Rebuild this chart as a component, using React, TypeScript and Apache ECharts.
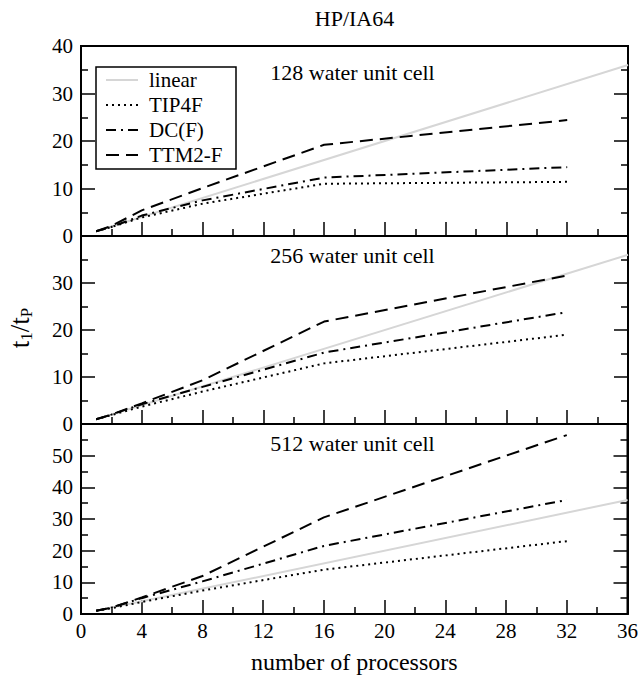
import React, { useEffect, useRef } from "react";
import * as echarts from "echarts";

const FONT = "'Liberation Serif', 'Times New Roman', serif";

// ---- data ----
const processors = [1, 2, 4, 8, 16, 32];
const linearX = [1, 36];
const seriesNames = ["linear", "TIP4F", "DC(F)", "TTM2-F"];
const panelTitles = ["128 water unit cell", "256 water unit cell", "512 water unit cell"];
const yMaxes = [40, 40, 60];
const xTicks = [0, 4, 8, 12, 16, 20, 24, 28, 32, 36];

const p128_TIP4F = [1, 1.9, 3.9, 6.8, 11.0, 11.4];
const p128_DCF = [1, 1.9, 4.3, 7.5, 12.3, 14.5];
const p128_TTM2F = [1, 2.1, 5.4, 10.1, 19.2, 24.4];

const p256_TIP4F = [1, 1.9, 3.7, 6.9, 12.9, 19.0];
const p256_DCF = [1, 2.0, 4.2, 7.9, 15.2, 23.8];
const p256_TTM2F = [1, 2.0, 4.4, 9.3, 21.8, 31.6];

const p512_TIP4F = [1, 1.8, 3.8, 7.4, 14.0, 23.0];
const p512_DCF = [1, 2.0, 5.0, 10.3, 21.5, 36.0];
const p512_TTM2F = [1, 2.0, 5.2, 12.0, 30.5, 56.5];

const panels = [
  [p128_TIP4F, p128_DCF, p128_TTM2F],
  [p256_TIP4F, p256_DCF, p256_TTM2F],
  [p512_TIP4F, p512_DCF, p512_TTM2F],
];

// ---- styles ----
const lineStyles: any[] = [
  { color: "#d6d6d6", width: 2, type: "solid" },
  { color: "#000", width: 2, type: [2, 4] },
  { color: "#000", width: 2, type: [10, 5, 2, 5] },
  { color: "#000", width: 2, type: [13, 7] },
];

const PLOT_LEFT = 81;
const PLOT_RIGHT = 628;
const gridTops = [46, 236, 424];
const gridHeights = [190, 188, 190];

export default function App() {
  const ref = useRef<HTMLDivElement>(null);
  useEffect(() => {
    if (!ref.current) return;
    const chart = echarts.init(ref.current, null, { renderer: "svg" });

    const grids = gridTops.map((t, i) => ({
      left: PLOT_LEFT,
      width: PLOT_RIGHT - PLOT_LEFT,
      top: t,
      height: gridHeights[i],
      show: true,
      borderColor: "#000",
      borderWidth: 2,
      backgroundColor: "transparent",
    }));

    const tickStyle = { color: "#000", width: 1.5 };

    const xAxes = gridTops.map((_, i) => ({
      type: "value",
      gridIndex: i,
      min: xTicks[0],
      max: xTicks[xTicks.length - 1],
      interval: 4,
      position: "bottom",
      axisLine: { show: true, onZero: false, lineStyle: { color: "#000", width: 2 } },
      axisTick: { show: true, inside: true, length: 14, lineStyle: tickStyle },
      minorTick: { show: true, splitNumber: 2, length: 7, lineStyle: tickStyle },
      splitLine: { show: false },
      minorSplitLine: { show: false },
      axisLabel: {
        show: i === 2,
        fontFamily: FONT,
        fontSize: 21,
        color: "#000",
        margin: 6,
      },
      name: i === 2 ? "number of processors" : "",
      nameLocation: "middle",
      nameGap: 36,
      nameTextStyle: { fontFamily: FONT, fontSize: 24, color: "#000" },
    }));

    const makeY = (i: number, right: boolean) => ({
      type: "value",
      gridIndex: i,
      min: 0,
      max: yMaxes[i],
      interval: 10,
      position: right ? "right" : "left",
      axisLine: { show: true, onZero: false, lineStyle: { color: "#000", width: 2 } },
      axisTick: { show: true, inside: true, length: 14, lineStyle: tickStyle },
      minorTick: { show: true, splitNumber: 2, length: 7, lineStyle: tickStyle },
      splitLine: { show: false },
      minorSplitLine: { show: false },
      axisLabel: {
        show: !right,
        fontFamily: FONT,
        fontSize: 21,
        color: "#000",
        margin: 8,
        formatter: (v: number) => (i > 0 && v === yMaxes[i] ? "" : String(v)),
      },
    });

    const yAxes = [
      ...gridTops.map((_, i) => makeY(i, false)),
      ...gridTops.map((_, i) => makeY(i, true)),
    ];

    const series: any[] = [];
    panels.forEach((vals, i) => {
      series.push({
        name: seriesNames[0],
        type: "line",
        xAxisIndex: i,
        yAxisIndex: i,
        data: linearX.map((x) => [x, x]),
        showSymbol: false,
        lineStyle: lineStyles[0],
        z: 1,
      });
      vals.forEach((arr, k) => {
        series.push({
          name: seriesNames[k + 1],
          type: "line",
          xAxisIndex: i,
          yAxisIndex: i,
          data: processors.map((p, j) => [p, arr[j]]),
          showSymbol: false,
          lineStyle: lineStyles[k + 1],
          z: 2,
        });
      });
    });

    const cx = (PLOT_LEFT + PLOT_RIGHT) / 2;
    const graphics: any[] = [];
    graphics.push({
      type: "text",
      x: cx,
      y: 18,
      style: { text: "HP/IA64", fontFamily: FONT, fontSize: 22, fill: "#000", align: "center", verticalAlign: "middle" },
    });
    const titleYs = [72, 255, 443];
    panelTitles.forEach((t, i) => {
      graphics.push({
        type: "text",
        x: cx - 2,
        y: titleYs[i],
        style: { text: t, fontFamily: FONT, fontSize: 22, fill: "#000", align: "center", verticalAlign: "middle" },
      });
    });
    // legend
    const legX = 96, legY = 67, legW = 140, legH = 102;
    graphics.push({
      type: "rect",
      shape: { x: legX, y: legY, width: legW, height: legH },
      style: { fill: "#fff", stroke: "#000", lineWidth: 1.5 },
      z: 100,
    });
    const rowYs = [80, 105, 130, 155];
    seriesNames.forEach((n, k) => {
      const ls = lineStyles[k];
      graphics.push({
        type: "line",
        shape: { x1: 106, y1: rowYs[k], x2: 138, y2: rowYs[k] },
        style: { stroke: ls.color, lineWidth: ls.width, lineDash: Array.isArray(ls.type) ? ls.type : null },
        z: 101,
      });
      graphics.push({
        type: "text",
        x: 149,
        y: rowYs[k],
        style: { text: n, fontFamily: FONT, fontSize: 21, fill: "#000", verticalAlign: "middle" },
        z: 101,
      });
    });
    // y-axis label t1/tP
    graphics.push({
      type: "text",
      x: 20,
      y: 328,
      rotation: Math.PI / 2,
      style: {
        text: "{t|t}{s|1}{t|/t}{s|P}",
        align: "center",
        verticalAlign: "middle",
        fill: "#000",
        rich: {
          t: { fontFamily: FONT, fontSize: 27, lineHeight: 30, verticalAlign: "middle", fill: "#000" },
          s: { fontFamily: FONT, fontSize: 17, lineHeight: 10, verticalAlign: "bottom", fill: "#000" },
        },
      },
    });

    chart.setOption({
      animation: false,
      backgroundColor: "#fff",
      grid: grids,
      xAxis: xAxes,
      yAxis: yAxes,
      series,
      graphic: graphics,
    });
    return () => chart.dispose();
  }, []);
  return (
    <div
      ref={ref}
      style={{ position: "fixed", left: 0, top: 0, width: 641, height: 675 }}
    />
  );
}
